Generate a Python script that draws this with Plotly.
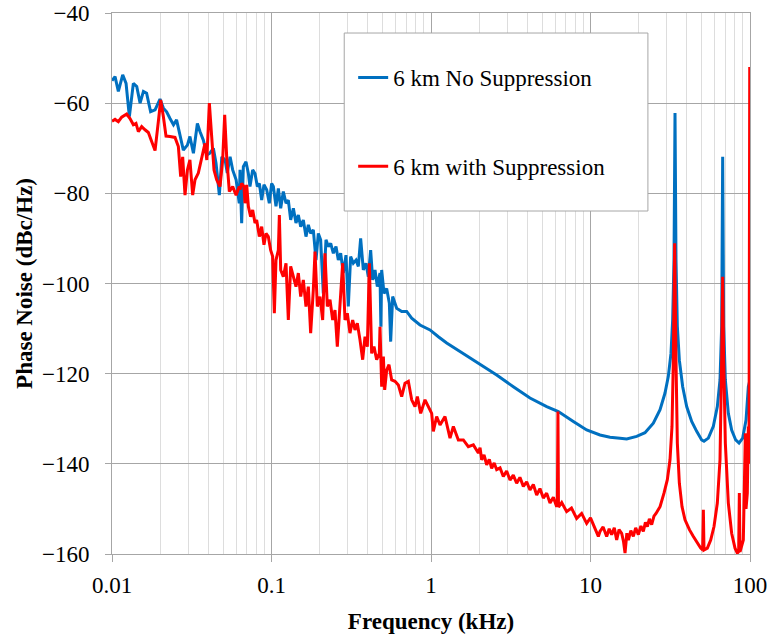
import plotly.graph_objects as go

# 6 km fibre, phase noise without suppression
blue_freq_khz = [
    0.0100, 0.01045, 0.01096, 0.01167, 0.01225, 0.01285, 0.01361, 0.01429, 0.0150, 0.01574,
    0.01648, 0.01746, 0.01862, 0.0200, 0.0210, 0.0220, 0.0231, 0.0243, 0.0254, 0.0267,
    0.0280, 0.0297, 0.0308, 0.0324, 0.0343, 0.0356, 0.0374, 0.0393, 0.0411, 0.0432,
    0.0449, 0.0471, 0.0488, 0.0512, 0.0528, 0.0550, 0.0571, 0.0600, 0.0628, 0.0635,
    0.0650, 0.0666, 0.0692, 0.0716, 0.0733, 0.0762, 0.0788, 0.0815, 0.0839, 0.0868,
    0.0897, 0.0933, 0.0969, 0.1002, 0.1027, 0.1067, 0.1104, 0.1142, 0.1186, 0.1233,
    0.1275, 0.1319, 0.1371, 0.1424, 0.1473, 0.1524, 0.1583, 0.1645, 0.1702, 0.1760,
    0.1829, 0.1901, 0.1966, 0.2033, 0.2113, 0.2196, 0.2271, 0.2350, 0.2442, 0.2537,
    0.2624, 0.2714, 0.2820, 0.2931, 0.3031, 0.3135, 0.3258, 0.3387, 0.3503, 0.3622,
    0.3764, 0.3912, 0.4046, 0.4185, 0.4308, 0.4457, 0.4608, 0.4788, 0.4850, 0.4906,
    0.5075, 0.5273, 0.5480, 0.5586, 0.5751, 0.6093, 0.6549, 0.7039, 0.7566, 0.8533,
    0.9858, 1.112, 1.254, 1.520, 1.843, 2.234, 2.581, 3.282, 4.175, 5.312,
    6.286, 7.806, 9.462, 11.47, 13.25, 15.31, 16.86, 19.48, 21.96, 24.77,
    27.29, 29.32, 30.76, 31.96, 32.74, 33.38, 33.87, 34.36, 35.03, 36.06,
    37.84, 40.09, 43.09, 46.31, 49.77, 51.47, 54.81, 58.90, 62.40, 64.85,
    66.43, 67.40, 68.39, 70.05, 73.14, 76.74, 81.34, 85.34, 89.97, 94.41,
    97.63, 100.0,
]
blue_dbc = [
    -55.0, -54.1, -57.4, -53.7, -55.6, -63.0, -55.6, -56.3, -60.0, -57.4,
    -57.8, -61.9, -61.5, -59.1, -61.1, -61.9, -63.4, -64.8, -63.7, -67.4,
    -70.4, -69.3, -67.4, -71.1, -64.5, -66.3, -68.2, -71.5, -71.1, -70.0,
    -73.3, -80.4, -71.9, -72.6, -75.5, -71.9, -74.8, -77.0, -82.2, -74.8,
    -86.6, -74.1, -73.0, -75.6, -78.5, -74.8, -75.6, -78.5, -77.8, -81.5,
    -78.1, -79.2, -82.2, -77.8, -78.5, -82.9, -78.9, -83.3, -79.6, -82.2,
    -81.5, -85.9, -83.3, -86.6, -84.8, -87.4, -85.9, -89.6, -87.0, -88.9,
    -88.1, -94.8, -88.9, -90.3, -102.2, -90.3, -91.8, -91.1, -93.3, -91.8,
    -94.8, -93.3, -97.7, -93.7, -105.1, -94.0, -95.5, -94.8, -96.2, -90.0,
    -97.0, -95.5, -98.5, -92.6, -99.2, -97.0, -100.7, -97.7, -109.6, -97.0,
    -102.2, -101.1, -104.4, -112.9, -102.9, -105.5, -106.2, -106.2, -107.7, -109.2,
    -110.3, -111.8, -113.2, -115.1, -117.0, -118.8, -120.3, -122.9, -125.4, -127.3,
    -128.4, -130.6, -132.5, -133.6, -134.1, -134.3, -134.5, -133.9, -133.1, -131.0,
    -128.0, -124.3, -120.6, -115.5, -108.1, -94.8, -62.2, -94.8, -109.5, -117.0,
    -122.9, -127.3, -130.6, -132.8, -134.7, -135.0, -134.3, -131.7, -127.3, -121.4,
    -109.5, -71.9, -109.5, -121.4, -128.8, -132.5, -134.7, -135.4, -134.3, -130.3,
    -122.9, -121.4,
]

# 6 km fibre, phase noise with suppression
red_freq_khz = [
    0.0100, 0.01045, 0.01096, 0.0115, 0.01236, 0.01297, 0.01361, 0.01414, 0.01463, 0.01535,
    0.01611, 0.0169, 0.01773, 0.01862, 0.01952, 0.0202, 0.0210, 0.02181, 0.0231, 0.02483,
    0.02606, 0.02695, 0.02774, 0.02869, 0.0297, 0.0308, 0.03205, 0.03314, 0.03477, 0.03649,
    0.03829, 0.0393, 0.04077, 0.04217, 0.04361, 0.04531, 0.04755, 0.04941, 0.05087, 0.05236,
    0.05441, 0.0571, 0.0600, 0.0628, 0.0635, 0.0650, 0.0672, 0.0682, 0.0699, 0.0716,
    0.0740, 0.0762, 0.0788, 0.0807, 0.0839, 0.0868, 0.0897, 0.0924, 0.0955, 0.0988,
    0.1017, 0.1042, 0.1067, 0.1104, 0.1120, 0.1142, 0.1186, 0.1233, 0.1275, 0.1319,
    0.1371, 0.1424, 0.1473, 0.1524, 0.1583, 0.1645, 0.1702, 0.1760, 0.1829, 0.1874,
    0.1938, 0.2014, 0.2093, 0.2164, 0.2239, 0.2327, 0.2418, 0.2501, 0.2586, 0.2689,
    0.2794, 0.2890, 0.2988, 0.3105, 0.3228, 0.3338, 0.3452, 0.3587, 0.3729, 0.3857,
    0.3989, 0.4106, 0.4246, 0.4392, 0.4563, 0.4743, 0.4790, 0.4906, 0.5027, 0.5124,
    0.5273, 0.5453, 0.5667, 0.5948, 0.6240, 0.6549, 0.6871, 0.7210, 0.7566, 0.7940,
    0.8212, 0.8616, 0.9170, 0.9623, 1.0097, 1.034, 1.085, 1.139, 1.224, 1.316,
    1.381, 1.484, 1.595, 1.714, 1.843, 1.981, 2.03, 2.078, 2.15, 2.234,
    2.32, 2.401, 2.49, 2.581, 2.71, 2.841, 2.98, 3.128, 3.28, 3.444,
    3.61, 3.793, 3.98, 4.175, 4.38, 4.598, 4.82, 5.062, 5.31, 5.574,
    5.85, 6.137, 6.20, 6.25, 6.30, 6.6, 7.089, 7.6, 8.190, 8.8,
    9.462, 10.0, 10.67, 11.20, 11.47, 12.0, 12.63, 13.1, 13.57, 14.1,
    14.59, 15.1, 15.68, 16.1, 16.46, 16.9, 17.27, 17.9, 18.56, 19.2,
    19.95, 20.7, 21.44, 22.1, 22.72, 23.4, 24.18, 25.0, 25.75, 27.29,
    28.89, 30.32, 31.51, 32.43, 33.06, 33.70, 34.36, 35.03, 36.06, 37.48,
    39.13, 41.69, 44.15, 46.77, 49.06, 50.50, 51.0, 51.47, 54.03, 56.69,
    59.48, 62.40, 64.85, 66.43, 67.40, 68.39, 70.05, 73.14, 76.74, 80.54,
    83.29, 84.9, 85.74, 86.57, 90.82, 93.5, 94.41, 96.2, 97.63, 98.6,
    99.6,
]
red_dbc = [
    -64.0, -63.6, -64.1, -63.1, -62.4, -63.4, -64.8, -64.5, -66.3, -65.2,
    -65.9, -66.5, -68.5, -70.5, -64.1, -59.3, -63.0, -67.3, -67.4, -67.6,
    -69.6, -76.3, -71.9, -80.4, -74.8, -72.6, -80.4, -77.0, -75.5, -71.9,
    -68.9, -72.6, -60.0, -67.4, -74.8, -77.0, -78.5, -72.6, -62.6, -71.9,
    -79.6, -78.5, -80.4, -78.5, -79.2, -77.8, -78.5, -82.2, -78.1, -82.9,
    -85.2, -83.7, -86.6, -85.9, -89.6, -87.4, -91.4, -88.9, -89.6, -92.6,
    -94.0, -106.6, -94.8, -92.6, -84.8, -97.0, -98.5, -95.5, -108.1, -96.2,
    -98.5, -100.7, -97.7, -102.9, -99.2, -105.1, -100.7, -111.0, -101.4, -92.9,
    -105.1, -102.9, -108.1, -93.3, -105.1, -103.6, -108.1, -105.9, -114.0, -105.1,
    -95.5, -108.1, -106.6, -111.0, -108.1, -110.3, -108.8, -112.5, -116.9, -111.8,
    -114.0, -95.5, -115.5, -114.0, -116.9, -115.5, -109.6, -122.9, -116.2, -123.6,
    -119.2, -118.0, -121.4, -121.7, -122.5, -125.1, -122.1, -121.7, -125.8, -127.3,
    -125.1, -128.8, -125.8, -127.3, -128.8, -132.8, -129.5, -131.4, -129.5, -134.3,
    -131.7, -134.7, -134.7, -136.2, -135.8, -137.6, -136.4, -139.1, -138.0, -140.2,
    -139.0, -141.0, -139.8, -141.3, -140.9, -142.8, -141.6, -143.6, -142.5, -144.3,
    -143.0, -145.0, -144.0, -145.8, -144.6, -146.9, -145.5, -147.6, -146.5, -148.7,
    -147.4, -149.5, -148.6, -128.4, -149.6, -148.6, -150.6, -149.8, -152.1, -151.0,
    -153.2, -152.0, -154.6, -156.1, -155.0, -154.0, -156.1, -154.4, -155.7, -154.2,
    -156.9, -154.6, -155.4, -157.2, -159.8, -155.4, -156.9, -154.8, -156.1, -154.2,
    -155.7, -153.8, -155.0, -153.0, -153.9, -152.2, -153.5, -151.6, -151.0, -149.5,
    -146.5, -143.5, -139.1, -131.7, -117.0, -91.1, -117.0, -135.4, -144.3, -149.5,
    -152.4, -154.6, -156.1, -157.6, -158.7, -159.1, -150.2, -159.1, -158.7, -156.9,
    -153.9, -148.7, -139.1, -117.0, -98.5, -117.0, -135.4, -148.7, -155.4, -158.7,
    -159.8, -159.5, -146.5, -159.5, -156.9, -133.2, -150.0, -146.5, -131.7, -140.0,
    -52.0,
]

x_tick_vals = [0.01, 0.1, 1, 10, 100]
x_tick_text = ["0.01", "0.1", "1", "10", "100"]

SERIF = "Liberation Serif"
GRID = "#A6A6A6"

fig = go.Figure()
fig.add_trace(go.Scatter(x=blue_freq_khz, y=blue_dbc, mode="lines",
                         name="6 km No Suppression", legendgroup="a",
                         line=dict(color="#0070C0", width=3)))
fig.add_trace(go.Scatter(x=red_freq_khz, y=red_dbc, mode="lines",
                         name="6 km with Suppression", legendgroup="b",
                         line=dict(color="#FF0000", width=3)))

# legend frame
fig.add_shape(type="rect", xref="paper", yref="paper",
              x0=0.364, x1=0.840, y0=0.634, y1=0.963,
              line=dict(color=GRID, width=1), fillcolor="white", layer="above")

fig.update_xaxes(type="log", range=[-2, 2], tickvals=x_tick_vals, ticktext=x_tick_text,
                 showgrid=True, gridcolor=GRID, gridwidth=1,
                 minor=dict(dtick="D1", showgrid=True, gridcolor="#DDDDDD", ticks=""),
                 showline=True, linecolor=GRID, mirror=True,
                 ticks="outside", ticklen=7, tickcolor=GRID, ticklabelstandoff=3,
                 tickfont=dict(family=SERIF, size=23, color="black"),
                 title=dict(text="<b>Frequency (kHz)</b>", standoff=16,
                            font=dict(family=SERIF, size=23, color="black")),
                 zeroline=False, automargin=False)
fig.update_yaxes(range=[-160, -40], dtick=20,
                 showgrid=True, gridcolor=GRID, gridwidth=1,
                 showline=True, linecolor=GRID, mirror=True,
                 ticks="outside", ticklen=6, tickcolor=GRID, ticklabelstandoff=11,
                 tickfont=dict(family=SERIF, size=23, color="black"),
                 title=dict(text="<b>Phase Noise (dBc/Hz)</b>", standoff=2,
                            font=dict(family=SERIF, size=23, color="black")),
                 zeroline=False, automargin=False)

fig.update_layout(
    width=771, height=636,
    margin=dict(l=112, r=21, t=13, b=82),
    paper_bgcolor="white", plot_bgcolor="white",
    showlegend=True,
    legend=dict(x=0.378, y=0.9205, xanchor="left", yanchor="top",
                bgcolor="rgba(0,0,0,0)", borderwidth=0,
                traceorder="grouped", tracegroupgap=56, itemwidth=30,
                font=dict(family=SERIF, size=23, color="black")),
)

# drop the default page margin so the figure sits at the window's corner
fig.write_html("out.html", config={"displayModeBar": False},
               post_script="document.body.style.margin = '0';")
